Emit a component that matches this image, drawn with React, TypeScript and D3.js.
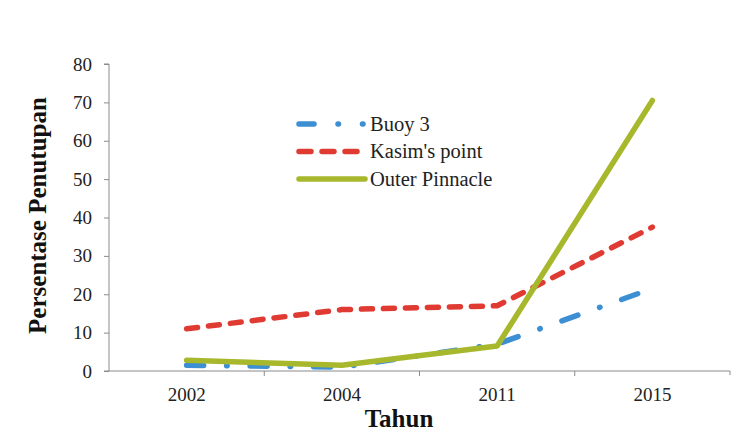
import React, { useRef, useEffect } from "react";
import * as d3 from "d3";

const years = ["2002", "2004", "2011", "2015"];
const buoy3 = [1.5, 1, 7, 21.5];
const kasimsPoint = [11, 16, 17, 37.5];
const outerPinnacle = [2.8, 1.5, 6.5, 70.5];
const yTicks = [0, 10, 20, 30, 40, 50, 60, 70, 80];

const series = [
  { name: "Buoy 3", values: buoy3, color: "#3d8fd3", dash: "17,23,0.5,23", legendDash: "15,24,0.5,24,0.5,24" },
  { name: "Kasim's point", values: kasimsPoint, color: "#df3b32", dash: "11,11", legendDash: "12,11" },
  { name: "Outer Pinnacle", values: outerPinnacle, color: "#a8b82c", dash: null, legendDash: null },
];

const App = () => {
  const svgRef = useRef(null);

  useEffect(() => {
    const svg = d3.select(svgRef.current);
    svg.selectAll("*").remove();
    const font = "'Liberation Serif', 'Times New Roman', Times, serif";

    const x = d3.scaleBand().domain(years).range([109, 730]);
    const cx = (d: string) => (x(d) as number) + x.bandwidth() / 2;
    const y = d3.scaleLinear().domain([0, 80]).range([371, 64]);

    // y axis
    const ya = svg
      .append("g")
      .attr("transform", `translate(${x.range()[0]},0)`)
      .call(d3.axisLeft(y).tickValues(yTicks).tickSize(5).tickPadding(12));
    ya.select(".domain").attr("stroke", "#8a8a8a").attr("d", `M-5,${y(80)}H0V${y(0)}`);
    ya.selectAll(".tick line").attr("stroke", "#8a8a8a");
    ya.selectAll("text")
      .style("font-family", font)
      .style("font-size", "19px")
      .attr("fill", "#222");

    // x axis
    const xa = svg
      .append("g")
      .attr("transform", `translate(0,${y(0)})`)
      .call(d3.axisBottom(x).tickSize(0).tickPadding(17));
    xa.select(".domain").attr("stroke", "#8a8a8a").attr("d", `M${x.range()[0] - 5},0H${x.range()[1]}V4`);
    xa.selectAll("text")
      .style("font-family", font)
      .style("font-size", "19px")
      .attr("fill", "#222");
    years.slice(1).forEach((d) => {
      xa.append("line")
        .attr("x1", x(d) as number)
        .attr("x2", x(d) as number)
        .attr("y1", 0)
        .attr("y2", 5)
        .attr("stroke", "#8a8a8a");
    });

    // lines
    const line = d3
      .line<number>()
      .x((d, i) => cx(years[i]))
      .y((d) => y(d));

    series.forEach((s) => {
      svg
        .append("path")
        .datum(s.values)
        .attr("fill", "none")
        .attr("stroke", s.color)
        .attr("stroke-width", 5.5)
        .attr("stroke-linecap", "round")
        .attr("stroke-linejoin", "round")
        .attr("stroke-dasharray", s.dash)
        .attr("d", line);
    });

    // legend
    series.forEach((s, i) => {
      const ly = 124 + i * 27.5;
      svg
        .append("line")
        .attr("x1", 299)
        .attr("x2", 365)
        .attr("y1", ly)
        .attr("y2", ly)
        .attr("stroke", s.color)
        .attr("stroke-width", 5.5)
        .attr("stroke-linecap", "round")
        .attr("stroke-dasharray", s.legendDash);
      svg
        .append("text")
        .attr("x", 370)
        .attr("y", ly + 6.5)
        .style("font-family", font)
        .style("font-size", "20.5px")
        .attr("fill", "#222")
        .text(s.name);
    });

    // axis titles
    svg
      .append("text")
      .attr("transform", `translate(46,${(y(0) + y(80)) / 2 - 2}) rotate(-90)`)
      .attr("text-anchor", "middle")
      .style("font-family", font)
      .style("font-size", "25px")
      .style("font-weight", "bold")
      .attr("fill", "#111")
      .text("Persentase Penutupan");

    svg
      .append("text")
      .attr("x", 399)
      .attr("y", 427)
      .attr("text-anchor", "middle")
      .style("font-family", font)
      .style("font-size", "25px")
      .style("font-weight", "bold")
      .attr("fill", "#111")
      .text("Tahun");
  }, []);

  return (
    <svg
      ref={svgRef}
      width={746}
      height={436}
      style={{ position: "absolute", left: 0, top: 0, background: "#fff" }}
    />
  );
};

export default App;
